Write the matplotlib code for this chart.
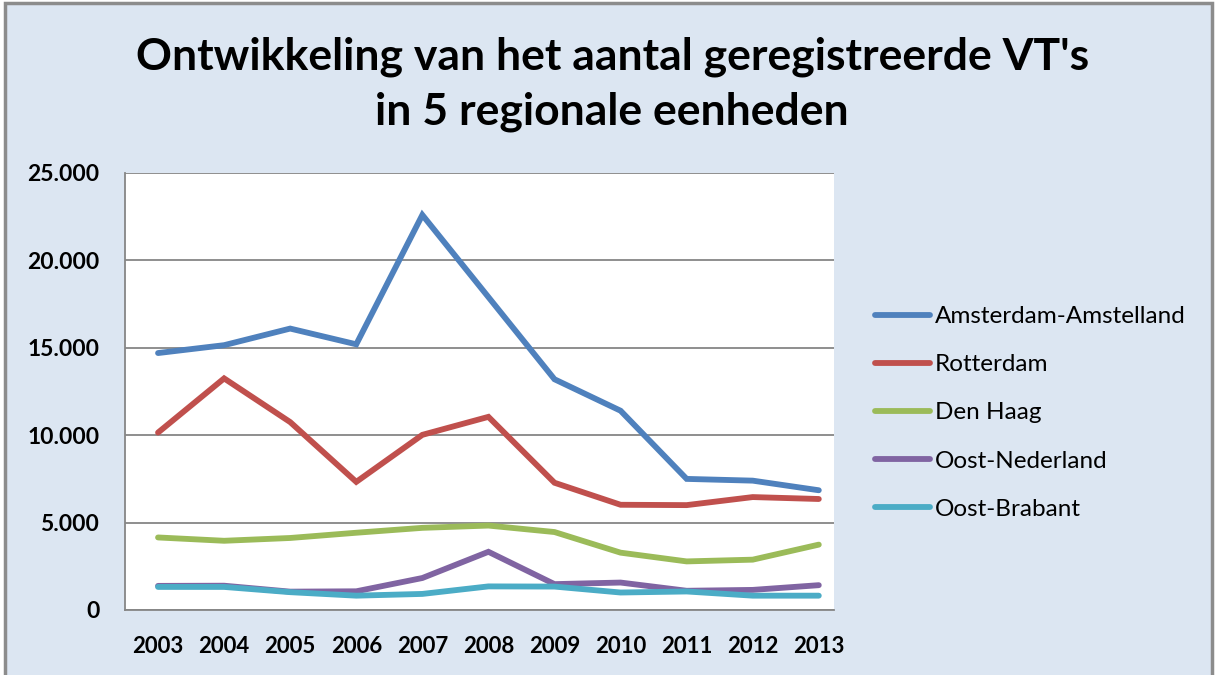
import matplotlib.pyplot as plt
from matplotlib.patches import Rectangle
from matplotlib.ticker import FuncFormatter

plt.rcParams['font.family'] = ['Lato', 'DejaVu Sans']

years = [2003, 2004, 2005, 2006, 2007, 2008, 2009, 2010, 2011, 2012, 2013]
amsterdam = [14700, 15150, 16100, 15200, 22600, 17900, 13200, 11400, 7500, 7400, 6850]
rotterdam = [10150, 13250, 10750, 7330, 10020, 11050, 7280, 6020, 6000, 6460, 6350]
den_haag = [4150, 3960, 4120, 4420, 4700, 4830, 4460, 3280, 2780, 2880, 3740]
oost_nederland = [1380, 1390, 1050, 1070, 1830, 3330, 1480, 1570, 1100, 1150, 1420]
oost_brabant = [1320, 1320, 1020, 820, 920, 1350, 1340, 1000, 1060, 820, 820]

series = [
    ("Amsterdam-Amstelland", amsterdam, "#4F81BD"),
    ("Rotterdam", rotterdam, "#C0504D"),
    ("Den Haag", den_haag, "#9BBB59"),
    ("Oost-Nederland", oost_nederland, "#8064A2"),
    ("Oost-Brabant", oost_brabant, "#4BACC6"),
]

fig = plt.figure(figsize=(12.17, 6.75), dpi=100)
fig.patch.set_facecolor("white")

# chart area with gray border
fig.patches.append(Rectangle((5 / 1217, -0.02), 1207 / 1217, (675 - 3) / 675 + 0.02,
                             transform=fig.transFigure, facecolor="#DCE6F2",
                             edgecolor="#8C8C8C", linewidth=2.5, zorder=-5))

ax = fig.add_axes([125 / 1217, 65 / 675, 709 / 1217, 437 / 675])
ax.set_zorder(2)
ax.set_facecolor("white")

for name, vals, color in series:
    ax.plot(years, vals, color=color, linewidth=4.2, label=name,
            solid_capstyle="round", solid_joinstyle="miter")

ax.set_ylim(0, 25000)
ax.set_xlim(2002.5, 2013.23)
ax.set_yticks(range(0, 25001, 5000))
ax.set_xticks(years)
ax.yaxis.set_major_formatter(FuncFormatter(lambda v, p: f"{int(v):,}".replace(",", ".")))
ax.grid(axis="y", color="#868686", linewidth=1.3)
ax.set_axisbelow(True)

for s in ["top", "right"]:
    ax.spines[s].set_visible(False)
for s in ["left", "bottom"]:
    ax.spines[s].set_color("#868686")
    ax.spines[s].set_linewidth(1.3)

ax.tick_params(axis="y", length=0, pad=18.5, labelsize=16.5)
ax.tick_params(axis="x", length=0, pad=18.5, labelsize=16)
for lbl in ax.get_xticklabels() + ax.get_yticklabels():
    lbl.set_fontweight("bold")

fig.text(0.503, 1 - 84 / 675, "Ontwikkeling van het aantal geregistreerde VT's\nin 5 regionale eenheden",
         ha="center", va="center", fontsize=32, fontweight="bold", linespacing=1.45)

ax.legend(loc="upper left", bbox_to_anchor=(875 / 1217, 1 - 306 / 675),
          bbox_transform=fig.transFigure, frameon=False, fontsize=17.5,
          handlelength=2.25, handletextpad=0.2, labelspacing=1.12, borderaxespad=0,
          borderpad=0)

fig.savefig("out.png", dpi=100, facecolor=fig.get_facecolor())
